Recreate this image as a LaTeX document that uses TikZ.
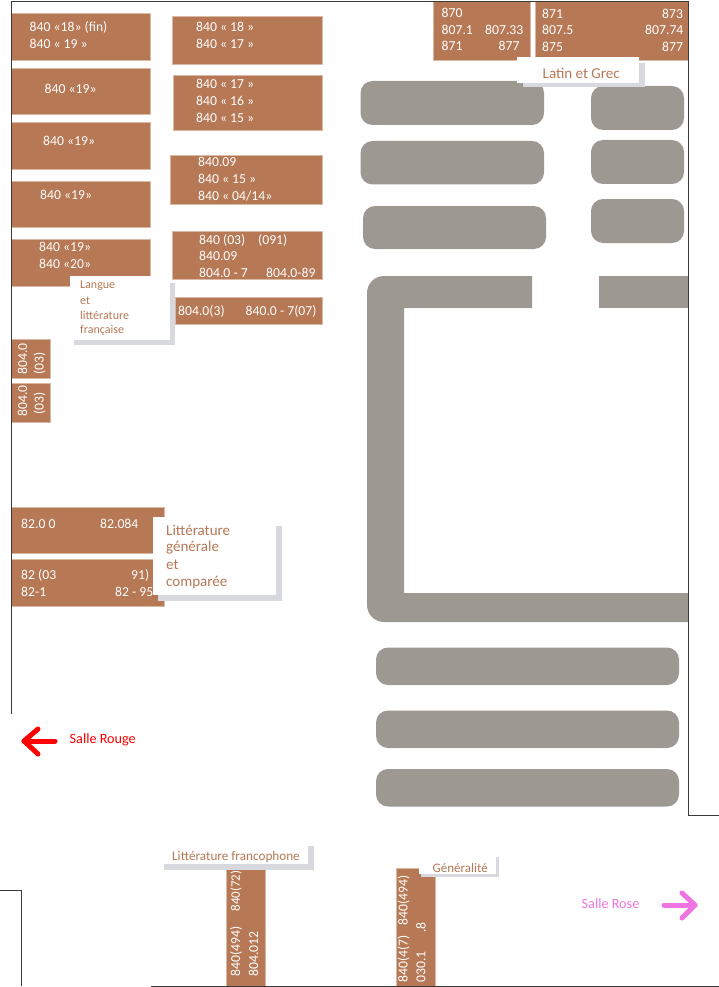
\documentclass[tikz,border=0pt]{standalone}
\usepackage{fontspec}
\setmainfont{Carlito}
\definecolor{brun}{HTML}{B67855}
\definecolor{brunclair}{HTML}{D9B8A4}
\definecolor{pierre}{HTML}{9E9892}
\definecolor{ombre}{HTML}{D8D9DE}
\definecolor{mur}{HTML}{3A3A3A}
\definecolor{rose}{HTML}{EE74E2}
\tikzset{
  x=1pt,y=-1pt,
  brown box/.style={fill=brun,draw=brunclair,line width=.25pt},
  stone/.style={fill=pierre,rounded corners=12pt},
  wall/.style={draw=mur,line width=.9pt},
  shade/.style={fill=ombre},
  blank/.style={fill=white},
  code/.style={text=white,font=\fontsize{13.7}{15}\selectfont,inner sep=0pt,anchor=west},
  tag/.style={text=brun,inner sep=0pt,anchor=west},
  arr/.style={line width=5pt,line cap=round,line join=round},
}
\newcommand{\bx}[4]{\path[brown box] (#1,#2) rectangle (#3,#4);}
\newcommand{\st}[4]{\path[stone] (#1,#2) rectangle (#3,#4);}
\begin{document}
\begin{tikzpicture}
\useasboundingbox[fill=white] (0,0) rectangle (719,987);
% stone blocks
\st{360.5}{81}{544}{125}
\st{591}{86}{684}{130}
\st{360.5}{141}{544}{184.5}
\st{591}{140}{684}{184}
\st{363}{206}{546}{249}
\st{591}{199}{684}{243}
\st{376}{647.5}{679}{685}
\st{376}{710.5}{679}{748}
\st{376}{769}{679}{806.5}
\fill[pierre] (532,276) [rounded corners=17pt] -- (367,276) -- (367,622) -- (450,622) [sharp corners] -- (688,622) -- (688,593) -- (404,593) -- (404,308) -- (532,308) -- cycle;
\fill[pierre] (599,276) rectangle (688,308);
% brown boxes
\bx{11.5}{13}{150}{60}
\bx{11.5}{68}{150}{114.5}
\bx{11.5}{122}{150}{169}
\bx{11.5}{181}{150}{227.5}
\bx{11.5}{239}{150}{286}
\bx{172}{16}{322}{64}
\bx{173}{75}{322}{130.5}
\bx{170.5}{155}{322}{204}
\bx{172}{231}{322}{279.5}
\bx{175}{297}{322}{324}
\bx{11.5}{339}{50}{378.5}
\bx{11.5}{383}{50}{422}
\bx{11.5}{507}{164}{553.5}
\bx{11.5}{559.5}{164}{606}
\bx{433.5}{1}{530}{60}
\bx{535}{1}{688}{60}
\bx{226}{869}{265}{986}
\bx{396}{868}{435}{986}
% walls
\draw[wall] (11.5,714) -- (11.5,1) -- (688.5,1) -- (688.5,815) -- (719,815);
\draw[wall] (0,890.5) -- (21.5,890.5) -- (21.5,986);
\draw[wall] (151,986) -- (719,986);
% label panels
\fill[shade] (74,283) rectangle (175,345);
\fill[blank] (70,276) rectangle (170,340);
\fill[shade] (158,526) rectangle (282,601);
\fill[blank] (153,517) rectangle (276,595);
\fill[shade] (523,63) rectangle (645,87);
\fill[blank] (517,57) rectangle (639,83);
\fill[shade] (164,846) rectangle (314,869.5);
\fill[blank] (163,846) rectangle (308,864);
\fill[shade] (421,857) rectangle (499,877);
\fill[blank] (419,856) rectangle (496,874);
% codes
\node[code] (a1) at (29.5,27) {840 «18» (fin)};
\node[code] (a2) at (29.5,44) {840 « 19 »};
\node[code] (a3) at (44.5,89) {840 «19»};
\node[code] (a4) at (43,141) {840 «19»};
\node[code] (a5) at (40,195) {840 «19»};
\node[code] (a6) at (39,247) {840 «19»};
\node[code] (a7) at (39,264) {840 «20»};
\node[code] (b1) at (196,27) {840 « 18 »};
\node[code] (b2) at (196,44) {840 « 17 »};
\node[code] (b3) at (196,84) {840 « 17 »};
\node[code] (b4) at (196,101) {840 « 16 »};
\node[code] (b5) at (196,118) {840 « 15 »};
\node[code] (b6) at (198,162) {840.09};
\node[code] (b7) at (198,179) {840 « 15 »};
\node[code] (b8) at (198,196) {840 « 04/14»};
\node[code] (b9) at (199,240) {840 (03)};
\node[code] (b10) at (258,240) {(091)};
\node[code] (b11) at (199,256) {840.09};
\node[code] (b12) at (199,273) {804.0 - 7};
\node[code] (b13) at (266,273) {804.0-89};
\node[code] (b14) at (178,311) {804.0(3)};
\node[code] (b15) at (245.5,311) {840.0 - 7(07)};
\node[code,rotate=90] (c1) at (22.5,375) {804.0};
\node[code,rotate=90] (c2) at (39.5,375) {(03)};
\node[code,rotate=90] (c3) at (22.5,417) {804.0};
\node[code,rotate=90] (c4) at (39.5,415) {(03)};
\node[code] (d1) at (21,524) {82.0 0};
\node[code] (d2) at (100,524) {82.084};
\node[code] (d3) at (21,575) {82  (03};
\node[code] (d4) at (131,575) {91)};
\node[code] (d5) at (21,592) {82-1};
\node[code] (d6) at (115,592) {82 - 95};
\node[code] (e1) at (441.5,13) {870};
\node[code] (e2) at (441.5,30) {807.1};
\node[code] (e3) at (485,30) {807.33};
\node[code] (e4) at (441.5,46) {871};
\node[code] (e5) at (498.5,46) {877};
\node[code] (f1) at (542,14) {871};
\node[code] (f2) at (662,14) {873};
\node[code] (f3) at (542,30) {807.5};
\node[code] (f4) at (645,30) {807.74};
\node[code] (f5) at (542,47) {875};
\node[code] (f6) at (662,47) {877};
\node[code,rotate=90] (g1) at (236,977) {840(494)};
\node[code,rotate=90,font=\fontsize{13}{15}\selectfont] (g2) at (236,911.5) {840(72)};
\node[code,rotate=90] (g3) at (253.5,977) {804.012};
\node[code,rotate=90] (h1) at (403.5,983) {840(4(7)};
\node[code,rotate=90] (h2) at (403.5,926) {840(494)};
\node[code,rotate=90] (h3) at (421,983) {030.1};
\node[code,rotate=90] (h4) at (421,933) {.8};
% labels
\node[tag,font=\fontsize{12}{13}\selectfont] (l1) at (80,286) {Langue};
\node[tag,font=\fontsize{12}{13}\selectfont] (l2) at (80,301) {et};
\node[tag,font=\fontsize{12}{13}\selectfont] (l3) at (80,315) {littérature};
\node[tag,font=\fontsize{12}{13}\selectfont] (l4) at (80,330) {française};
\node[tag,font=\fontsize{15}{16}\selectfont] (m1) at (166,530) {Littérature};
\node[tag,font=\fontsize{15}{16}\selectfont] (m2) at (166,548) {générale};
\node[tag,font=\fontsize{15}{16}\selectfont] (m3) at (166,565) {et};
\node[tag,font=\fontsize{15}{16}\selectfont] (m4) at (166,583) {comparée};
\node[tag,font=\fontsize{15}{16}\selectfont] (n) at (542.5,73) {Latin et Grec};
\node[tag,font=\fontsize{13.2}{15}\selectfont] (o) at (172,857) {Littérature francophone};
\node[tag,font=\fontsize{13}{15}\selectfont] (p) at (432.5,868) {Généralité};
\node[inner sep=0pt,anchor=west,text=red,font=\fontsize{14.2}{15}\selectfont] (q) at (69.5,739.5) {Salle Rouge};
\node[inner sep=0pt,anchor=west,text=rose,font=\fontsize{14.2}{15}\selectfont] (r) at (581.5,903.5) {Salle Rose};
% arrows
\draw[arr,red] (55,741) -- (24,741);
\draw[arr,red] (38,729) -- (24,741) -- (38,754);
\draw[arr,rose] (664,905) -- (695,905);
\draw[arr,rose] (682,893) -- (695,905) -- (682,918);
\end{tikzpicture}
\end{document}
